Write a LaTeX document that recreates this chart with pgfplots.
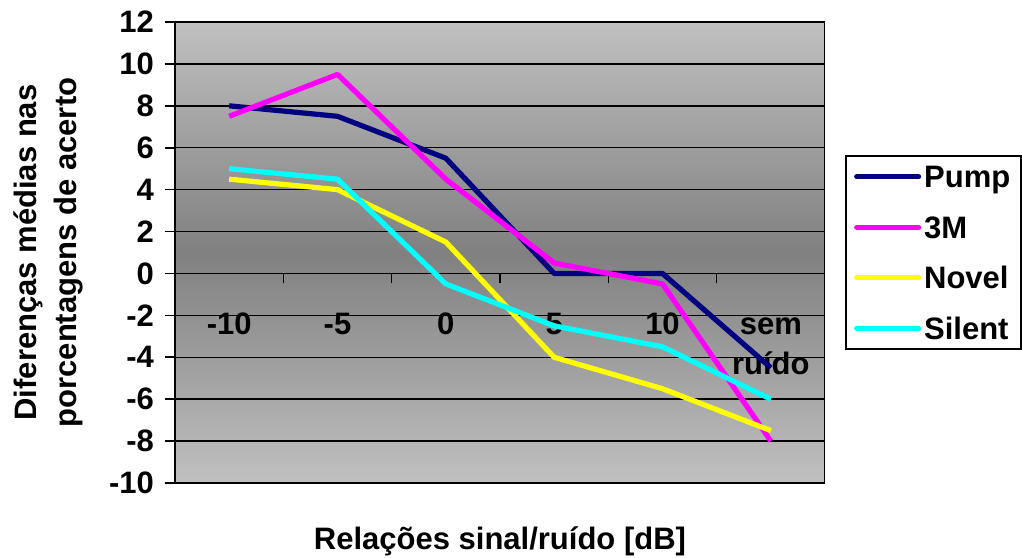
\documentclass[border=0pt]{standalone}
\usepackage{pgfplots}
\pgfplotsset{compat=1.18}
\usepackage{fontspec}
\setmainfont{Liberation Sans}
\definecolor{pump}{RGB}{0,0,128}
\definecolor{mmm}{RGB}{255,0,255}
\definecolor{novel}{RGB}{255,255,0}
\definecolor{silent}{RGB}{0,255,255}
\definecolor{bgl}{RGB}{192,192,192}
\definecolor{bgd}{RGB}{128,128,128}
\newcommand{\cf}{\bfseries\fontsize{15.5}{20}\selectfont}
\begin{document}
\begin{tikzpicture}
\begin{axis}[
  at={(0,0)}, anchor=south west,
  width=325pt, height=230.5pt, scale only axis,
  xmin=-0.5, xmax=5.5, ymin=-10, ymax=12,
  axis x line=middle, axis y line=left,
  every inner x axis line/.append style={-, line width=0.8pt},
  every outer y axis line/.append style={-, line width=1pt},
  axis background/.style={top color=bgl, bottom color=bgl, middle color=bgd},
  /pgf/number format/assume math mode=true,
  xtick={0.5,1.5,...,4.5}, xticklabels={},
  xtick align=outside, major tick length=5pt,
  extra x ticks={0,1,2,3,4,5},
  extra x tick labels={{\strut -10\\~},{\strut -5\\~},{\strut 0\\~},{\strut 5\\~},{\strut 10\\~},{\strut sem\\ruído}},
  extra x tick style={major tick length=0pt, xticklabel style={align=center, anchor=north, yshift=-13pt}},
  ytick={-10,-8,...,12},
  ytick align=outside,
  ymajorgrids, grid style={black, line width=0.7pt},
  tick style={black, line width=0.8pt},
  ticklabel style={font=\cf},
  yticklabel style={xshift=-2pt},
  every axis x label/.style={at={(axis description cs:0.5,0)}, anchor=center, yshift=-29pt, font=\cf},
  every axis y label/.style={at={(axis description cs:-0.1954,0.5)}, rotate=90, anchor=center, align=center, font=\cf},
  xlabel={Relações sinal/ruído [dB]},
  ylabel={Diferenças médias nas\\porcentagens de acerto},
  legend style={at={(1.031,0.5)}, anchor=west, draw=black, line width=1pt, font=\cf,
    row sep=7.2pt, inner xsep=4pt, inner ysep=1.5pt,
    nodes={text height=13pt, text depth=2pt, inner sep=1.5pt}},
  legend cell align=left,
  legend image code/.code={\draw[#1, line width=2.5pt, line cap=round] (0pt,0pt) -- (31pt,0pt);},
  every axis plot/.append style={line width=2.6pt, line join=round},
]
\addplot[pump] coordinates {(0,8) (1,7.5) (2,5.5) (3,0) (4,0) (5,-4.5)};
\addplot[mmm] coordinates {(0,7.5) (1,9.5) (2,4.5) (3,0.5) (4,-0.5) (5,-8)};
\addplot[novel] coordinates {(0,4.5) (1,4) (2,1.5) (3,-4) (4,-5.5) (5,-7.5)};
\addplot[silent] coordinates {(0,5) (1,4.5) (2,-0.5) (3,-2.5) (4,-3.5) (5,-6)};
\legend{Pump,3M,Novel,Silent}
\draw[black, line width=1pt] (rel axis cs:0,0) rectangle (rel axis cs:1,1);
\coordinate (sw) at (rel axis cs:0,0);
\end{axis}
\pgfresetboundingbox
\path[use as bounding box] ([shift={(-87.5pt,-37pt)}]sw) rectangle ([shift={(423.5pt,241.5pt)}]sw);
\end{tikzpicture}
\end{document}
